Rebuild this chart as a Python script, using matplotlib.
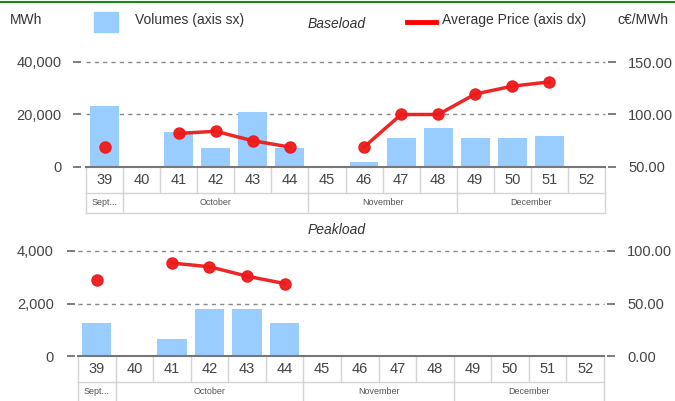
import numpy as np
import matplotlib
matplotlib.use("Agg")
import matplotlib.pyplot as plt
from matplotlib.lines import Line2D
from matplotlib.patches import Rectangle
import matplotlib.transforms as mtransforms

plt.rcParams['font.family'] = ['Liberation Sans', 'DejaVu Sans']

W, H = 675, 401

weeks = ['39', '40', '41', '42', '43', '44', '45', '46', '47', '48', '49', '50', '51', '52']
months = ['Sept...', 'October', 'November', 'December']
month_span = [1, 5, 4, 4]

base_vol = [23200, 0, 13300, 7200, 21000, 7200, 0, 1800, 11000, 14800, 11000, 11000, 11800, 0]
base_price = [69, np.nan, 82, 84, 75, 69, np.nan, 69, 100, 100, 119.5, 127, 131, np.nan]

peak_vol = [1250, 0, 650, 1800, 1800, 1250, 0, 0, 0, 0, 0, 0, 0, 0]
peak_price = [72, np.nan, 88.5, 85, 76, 69, np.nan, np.nan, np.nan, np.nan, np.nan, np.nan, np.nan, np.nan]

BAR = '#99ccff'
RED = '#ee1a1a'
GRID = '#888888'
TXT = '#444444'
TABLE = '#d4d4d4'


def fx(px):
    return px / W


def fy(py):
    return 1 - py / H


def panel(left, right, top, bottom, vols, prices, ylim, ylim2, yticks, yticks2, fmt, fmt2,
          out_l, pad_l):
    ax = fig.add_axes([fx(left), fy(bottom), fx(right - left), (bottom - top) / H])
    x = np.arange(len(weeks))
    ax.bar(x, vols, width=0.78, color=BAR, zorder=2)
    ax.set_xlim(-0.5, len(weeks) - 0.5)
    ax.set_ylim(*ylim)
    for t in yticks[1:]:
        ax.axhline(t, color=GRID, lw=1, ls=(0, (3, 3)), zorder=1, clip_on=False)
    ax.axhline(0, color='#777777', lw=1.5, zorder=3, clip_on=False)
    for s in ax.spines.values():
        s.set_visible(False)
    ax.spines['left'].set_position(('outward', out_l))
    ax.set_yticks(yticks)
    ax.set_yticklabels([fmt.format(v) for v in yticks])
    ax.tick_params(axis='y', length=5.8, width=1.2, color='#666666', pad=pad_l,
                   labelsize=10.5, labelcolor=TXT)
    ax.set_xticks([])

    ax2 = ax.twinx()
    ax2.plot(x, prices, color=RED, lw=2.5, marker='o', ms=8, zorder=4, alpha=0.95)
    ax2.set_ylim(*ylim2)
    for s in ax2.spines.values():
        s.set_visible(False)
    ax2.spines['right'].set_position(('outward', 2.2))
    ax2.set_yticks(yticks2)
    ax2.set_yticklabels([fmt2.format(v) for v in yticks2])
    ax2.tick_params(axis='y', length=5.8, width=1.2, color='#666666', pad=8.6,
                    labelsize=10.5, labelcolor=TXT)

    # category table below the plot
    hpx = bottom - top
    r1 = -26 / hpx
    r2 = -46 / hpx
    tr = mtransforms.blended_transform_factory(ax.transData, ax.transAxes)
    n = len(weeks)
    kw = dict(color=TABLE, lw=1, transform=tr, clip_on=False)
    for i in range(n + 1):
        ax.add_line(Line2D([i - 0.5, i - 0.5], [0, r1], **kw))
    ax.add_line(Line2D([-0.5, n - 0.5], [r1, r1], **kw))
    ax.add_line(Line2D([-0.5, n - 0.5], [r2, r2], **kw))
    for i, w in enumerate(weeks):
        ax.text(i, r1 / 2, w, transform=tr, ha='center', va='center', fontsize=10.5, color=TXT)
    start = 0
    for m, span in zip(months, month_span):
        ax.add_line(Line2D([start - 0.5, start - 0.5], [r1, r2], **kw))
        ax.text(start - 0.5 + span / 2, (r1 + r2) / 2, m, transform=tr, ha='center',
                va='center', fontsize=6.5, color='#555555')
        start += span
    ax.add_line(Line2D([n - 0.5, n - 0.5], [r1, r2], **kw))
    return ax


fig = plt.figure(figsize=(W / 100, H / 100), dpi=100)

panel(86, 605, 62, 167, base_vol, base_price, (0, 40000), (50, 150),
      [0, 20000, 40000], [50, 100, 150], '{:,.0f}', '{:.2f}', 3.6, 8)
panel(78, 604, 251, 356, peak_vol, peak_price, (0, 4000), (0, 100),
      [0, 2000, 4000], [0, 50, 100], '{:,.0f}', '{:.2f}', 2.2, 9.4)

# header
fig.add_artist(Line2D([0, 1], [fy(2), fy(2)], color='#1a8a1a', lw=1.5))
fig.text(fx(10), fy(20), 'MWh', fontsize=10, color='#333333', va='center')
fig.add_artist(Rectangle((fx(94), fy(32)), fx(24), 20 / H, color=BAR))
fig.text(fx(135), fy(20), 'Volumes (axis sx)', fontsize=10, color='#333333', va='center')
fig.text(fx(337), fy(24), 'Baseload', fontsize=10, style='italic', color='#333333',
         va='center', ha='center')
fig.add_artist(Line2D([fx(407), fx(436)], [fy(22), fy(22)], color='#ff0000', lw=3.5))
fig.text(fx(442), fy(20), 'Average Price (axis dx)', fontsize=10, color='#333333', va='center')
fig.text(fx(617), fy(20), 'c€/MWh', fontsize=10, color='#333333', va='center')
fig.text(fx(337), fy(230), 'Peakload', fontsize=10, style='italic', color='#333333',
         va='center', ha='center')

fig.savefig('out.png', dpi=100)
